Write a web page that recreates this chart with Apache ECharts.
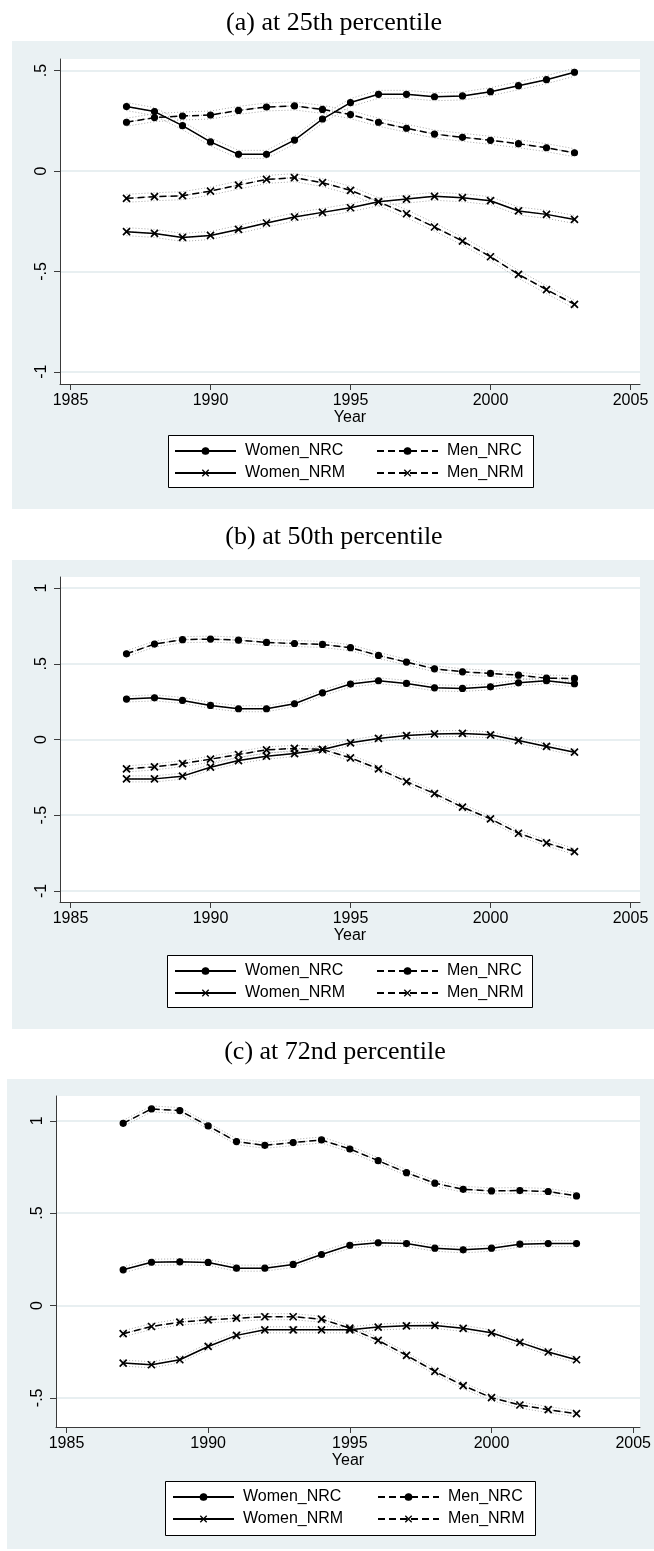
<!DOCTYPE html>
<html>
<head>
<meta charset="utf-8">
<script src="https://cdn.jsdelivr.net/npm/echarts@6/dist/echarts.min.js"></script>
<style>html,body{margin:0;padding:0;background:#fff;}#c{width:654px;height:1551px;}</style>
</head>
<body>
<div id="c"></div>
<script>
// ---------- data ----------
const years = [1987,1988,1989,1990,1991,1992,1993,1994,1995,1996,1997,1998,1999,2000,2001,2002,2003];
const seriesNames = ['Women_NRC','Men_NRC','Women_NRM','Men_NRM'];
const xTicks = [1985,1990,1995,2000,2005];
const titles = ['(a) at 25th percentile','(b) at 50th percentile','(c) at 72nd percentile'];

// panel (a) 25th percentile
const aWomenNRC = [0.321,0.296,0.226,0.145,0.083,0.083,0.154,0.259,0.341,0.382,0.382,0.370,0.374,0.395,0.425,0.455,0.492];
const aMenNRC   = [0.243,0.266,0.274,0.279,0.302,0.319,0.324,0.307,0.281,0.243,0.213,0.184,0.168,0.153,0.136,0.116,0.091];
const aWomenNRM = [-0.302,-0.311,-0.331,-0.321,-0.291,-0.259,-0.229,-0.206,-0.183,-0.153,-0.140,-0.126,-0.133,-0.148,-0.199,-0.216,-0.241];
const aMenNRM   = [-0.136,-0.128,-0.123,-0.100,-0.070,-0.042,-0.033,-0.058,-0.096,-0.153,-0.213,-0.279,-0.349,-0.427,-0.515,-0.591,-0.664];
const aYTicks = [-1,-0.5,0,0.5];

// panel (b) 50th percentile
const bWomenNRC = [0.267,0.275,0.258,0.225,0.203,0.203,0.236,0.308,0.366,0.388,0.370,0.341,0.337,0.348,0.374,0.388,0.368];
const bMenNRC   = [0.566,0.630,0.659,0.663,0.656,0.641,0.634,0.628,0.606,0.555,0.511,0.467,0.447,0.436,0.425,0.405,0.403];
const bWomenNRM = [-0.260,-0.260,-0.242,-0.183,-0.139,-0.110,-0.093,-0.066,-0.022,0.007,0.026,0.037,0.040,0.031,-0.007,-0.046,-0.084];
const bMenNRM   = [-0.194,-0.181,-0.159,-0.130,-0.099,-0.068,-0.059,-0.066,-0.121,-0.194,-0.278,-0.357,-0.447,-0.524,-0.619,-0.683,-0.740];
const bYTicks = [-1,-0.5,0,0.5,1];

// panel (c) 72nd percentile
const cWomenNRC = [0.193,0.234,0.236,0.233,0.202,0.202,0.222,0.276,0.326,0.339,0.335,0.310,0.301,0.310,0.332,0.335,0.335];
const cMenNRC   = [0.986,1.064,1.055,0.972,0.887,0.867,0.882,0.896,0.847,0.784,0.719,0.662,0.629,0.620,0.622,0.617,0.593];
const cWomenNRM = [-0.312,-0.321,-0.294,-0.222,-0.162,-0.132,-0.132,-0.132,-0.132,-0.117,-0.110,-0.108,-0.124,-0.148,-0.200,-0.252,-0.294];
const cMenNRM   = [-0.153,-0.114,-0.090,-0.078,-0.069,-0.061,-0.061,-0.074,-0.123,-0.189,-0.270,-0.357,-0.434,-0.499,-0.539,-0.564,-0.586];
const cYTicks = [-0.5,0,0.5,1];

const panelData = [
  [aWomenNRC, aMenNRC, aWomenNRM, aMenNRM],
  [bWomenNRC, bMenNRC, bWomenNRM, bMenNRM],
  [cWomenNRC, cMenNRC, cWomenNRM, cMenNRM]
];
const panelYTicks = [aYTicks, bYTicks, cYTicks];

// ---------- layout / style ----------
const FONT = '"Liberation Sans", Arial, sans-serif';
const layout = [
  {grid:{left:60,top:59,width:580,height:325}, x:[1984.625,2005.34], y:[-1.061,0.558],
   bg:{x:12,y:41,w:642,h:468}, title:[334,23], legBox:{x:168,y:435,w:365,h:52}, legCols:[174,376], band:4},
  {grid:{left:60,top:577,width:580,height:325}, x:[1984.625,2005.34], y:[-1.073,1.073],
   bg:{x:12,y:560,w:642,h:469}, title:[334,537], legBox:{x:167,y:955,w:365,h:52}, legCols:[174,376], band:3},
  {grid:{left:56,top:1096,width:586,height:331}, x:[1984.63,2005.24], y:[-0.658,1.134],
   bg:{x:7,y:1079,w:647,h:470}, title:[335,1052], legBox:{x:165,y:1481,w:370,h:54}, legCols:[172,377], band:3}
];
const XMARK = 'path://M0,0L10,10M0,10L10,0';
const styleOf = {
  'Women_NRC': {dash:'solid', symbol:'circle', size:6, bw:1.2},
  'Men_NRC':   {dash:[7,4],   symbol:'circle', size:6, bw:1.2},
  'Women_NRM': {dash:'solid', symbol:XMARK, size:7, bw:1.7},
  'Men_NRM':   {dash:[7,4],   symbol:XMARK, size:7, bw:1.7}
};
const fmtY = v => (v === 0 ? '0' : String(v).replace(/^(-?)0\./, '$1.'));
const fmtX = v => String(v);

const grids = [], xAxes = [], yAxes = [], series = [], legends = [], graphics = [];
layout.forEach((L, p) => {
  grids.push(Object.assign({show:true, backgroundColor:'#ffffff', borderWidth:0}, L.grid));
  xAxes.push({
    gridIndex:p, type:'value', min:L.x[0], max:L.x[1],
    axisLine:{show:true, onZero:false, lineStyle:{color:'#3a3a3a', width:1}},
    axisTick:{show:true, length:6, customValues:xTicks, lineStyle:{color:'#3a3a3a'}},
    axisLabel:{customValues:xTicks, margin:9, fontSize:16, color:'#000', fontFamily:FONT, formatter:fmtX},
    splitLine:{show:false},
    name:'Year', nameLocation:'middle', nameGap:25,
    nameTextStyle:{fontSize:16, color:'#000', fontFamily:FONT}
  });
  yAxes.push({
    gridIndex:p, type:'value', min:L.y[0], max:L.y[1],
    axisLine:{show:true, onZero:false, lineStyle:{color:'#3a3a3a', width:1}},
    axisTick:{show:true, length:6, customValues:panelYTicks[p], lineStyle:{color:'#3a3a3a'}},
    axisLabel:{customValues:panelYTicks[p], rotate:90, margin:10, fontSize:16, color:'#000', fontFamily:FONT, formatter:fmtY},
    splitLine:{show:true, lineStyle:{color:'#e0eaec', width:1.5}}
  });
  seriesNames.forEach((nm, k) => {
    const st = styleOf[nm];
    const pts = years.map((yr, i) => [yr, panelData[p][k][i]]);
    [L.band, -L.band].forEach(off => {
      series.push({
        type:'line', xAxisIndex:p, yAxisIndex:p, data:pts, symbol:'none', silent:true, z:1,
        lineStyle:{color:'#a8a8a8', width:1, type:[1,2], shadowColor:'#a8a8a8', shadowBlur:0, shadowOffsetY:off}
      });
    });
    series.push({
      name:nm, type:'line', xAxisIndex:p, yAxisIndex:p, data:pts, z:3,
      symbol:st.symbol, symbolSize:st.size,
      lineStyle:{color:'#000', width:1.5, type:st.dash},
      itemStyle:{color:'#000', borderColor:'#000', borderWidth:st.bw}
    });
  });
  // legend: 2 x 2 items
  const rows = [L.legBox.y + 16, L.legBox.y + 38];
  const order = [['Women_NRC', 0, 0], ['Men_NRC', 1, 0], ['Women_NRM', 0, 1], ['Men_NRM', 1, 1]];
  order.forEach(([nm, col, row]) => {
    legends.push({
      data:[nm], left:L.legCols[col], top:rows[row] - 8, padding:0,
      itemWidth:61, itemHeight:8, selectedMode:false, z:5,
      itemStyle:{borderWidth:1.3},
      textStyle:{fontSize:16, lineHeight:16, color:'#000', fontFamily:FONT, padding:[0,0,0,4]}
    });
  });
  graphics.push({type:'rect', z:-5, shape:{x:L.bg.x, y:L.bg.y, width:L.bg.w, height:L.bg.h}, style:{fill:'#eaf1f3'}});
  graphics.push({type:'rect', z:1, shape:{x:L.legBox.x + 0.5, y:L.legBox.y + 0.5, width:L.legBox.w, height:L.legBox.h}, style:{fill:'#ffffff', stroke:'#000', lineWidth:1}});
  graphics.push({type:'text', z:5, x:L.title[0], y:L.title[1],
    style:{text:titles[p], textAlign:'center', textVerticalAlign:'middle', font:'26px "Liberation Serif", "Times New Roman", serif', fill:'#000'}});
});

const chart = echarts.init(document.getElementById('c'), null, {renderer:'canvas'});
chart.setOption({
  animation:false,
  backgroundColor:'#ffffff',
  textStyle:{fontFamily:FONT},
  grid:grids, xAxis:xAxes, yAxis:yAxes, series:series, legend:legends, graphic:graphics
});
</script>
</body>
</html>
